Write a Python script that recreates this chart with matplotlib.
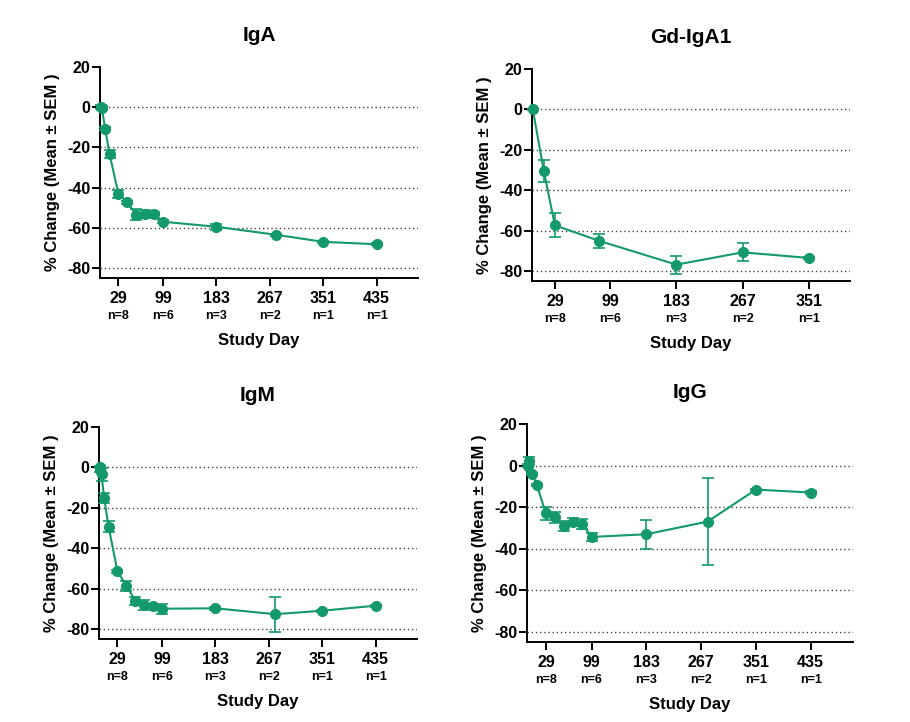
import matplotlib
matplotlib.use('Agg')
import matplotlib.pyplot as plt
import numpy as np

plt.rcParams['font.family'] = ['Liberation Sans', 'DejaVu Sans']
plt.rcParams['font.weight'] = 'bold'

GREEN = '#13996a'

# IgA
iga_days = [1, 3, 8, 15, 29, 43, 57, 71, 85, 99, 183, 277, 351, 435]
iga_mean = [0.3, -0.5, -10.7, -23.3, -43.2, -47.3, -53.5, -53.0, -53.0, -57.0, -59.5, -63.5, -67.0, -68.2]
iga_sem = [1.0, 1.0, 0.8, 2.2, 2.0, 0.8, 2.8, 2.0, 0.8, 0.8, 1.6, 0.6, 0.5, 0.5]

# Gd-IgA1
gd_days = [1, 15, 29, 85, 183, 267, 351]
gd_mean = [0.0, -30.6, -57.4, -65.1, -76.9, -70.8, -73.6]
gd_sem = [0.3, 5.4, 6.0, 3.4, 4.5, 4.5, 0.4]

# IgM
igm_days = [1, 2, 4, 8, 15, 29, 43, 57, 71, 85, 99, 183, 277, 351, 435]
igm_mean = [0.0, -1.5, -3.5, -15.0, -29.3, -51.4, -58.6, -66.0, -68.2, -68.8, -70.0, -69.8, -72.7, -71.0, -68.5]
igm_sem = [0.5, 1.0, 3.0, 2.5, 2.5, 0.8, 2.5, 2.0, 2.5, 0.8, 2.5, 0.6, 8.7, 0.5, 0.5]

# IgG
igg_days = [1, 3, 8, 15, 29, 43, 57, 71, 85, 99, 183, 277, 351, 435]
igg_mean = [0.0, 2.1, -4.0, -9.3, -23.1, -25.0, -29.0, -27.3, -28.1, -34.4, -33.1, -27.0, -11.6, -13.0]
igg_sem = [0.5, 2.0, 0.6, 0.6, 3.0, 2.5, 2.5, 2.0, 2.5, 2.0, 7.0, 21.0, 0.5, 0.5]

tick_days_long = [29, 99, 183, 267, 351, 435]
n_long = ['n=8', 'n=6', 'n=3', 'n=2', 'n=1', 'n=1']
tick_days_short = [29, 99, 183, 267, 351]
n_short = ['n=8', 'n=6', 'n=3', 'n=2', 'n=1']

panels = [
    ('IgA', iga_days, iga_mean, iga_sem, tick_days_long, n_long, 500, [100, 67, 418, 278]),
    ('Gd-IgA1', gd_days, gd_mean, gd_sem, tick_days_short, n_short, 403, [532, 69, 850, 281]),
    ('IgM', igm_days, igm_mean, igm_sem, tick_days_long, n_long, 500, [99, 427, 417, 639]),
    ('IgG', igg_days, igg_mean, igg_sem, tick_days_long, n_long, 500, [527, 424, 853, 642]),
]

W, H = 910, 722
fig = plt.figure(figsize=(W / 100, H / 100), dpi=100)

for title, days, mean, sem, ticks, nlab, xmax, box in panels:
    x0, y0, x1, y1 = box
    ax = fig.add_axes([x0 / W, (H - y1) / H, (x1 - x0) / W, (y1 - y0) / H])

    # dotted reference lines
    for g in [0, -20, -40, -60, -80]:
        ax.axhline(g, color='#444444', lw=1.0, ls=(0, (1, 2)), zorder=1)

    ax.errorbar(days, mean, yerr=sem, color=GREEN, lw=1.5, marker='o', ms=7,
                capsize=4, capthick=1.2, elinewidth=1.2, clip_on=False, zorder=3)

    ax.set_xlim(0, xmax)
    ax.set_ylim(-85, 20)
    ax.set_yticks([20, 0, -20, -40, -60, -80])
    ax.set_yticklabels(['20', '0', '-20', '-40', '-60', '-80'], fontsize=11.5, fontweight='bold')
    ax.set_xticks(ticks)
    ax.set_xticklabels([str(t) for t in ticks], fontsize=11.5, fontweight='bold')
    for t, n in zip(ticks, nlab):
        ax.annotate(n, xy=(t, 0), xycoords=('data', 'axes fraction'),
                    xytext=(0, -23), textcoords='offset points',
                    ha='center', va='top', fontsize=9, fontweight='bold')

    for s in ['top', 'right']:
        ax.spines[s].set_visible(False)
    for s in ['left', 'bottom']:
        ax.spines[s].set_linewidth(1.4)
    ax.tick_params(axis='both', direction='out', length=5.5, width=1.4)
    ax.tick_params(axis='x', pad=4)
    ax.tick_params(axis='y', pad=1.5)

    ax.set_ylabel('% Change (Mean \u00b1 SEM )', fontsize=12, fontweight='bold', labelpad=5)
    ax.set_xlabel('Study Day', fontsize=12, fontweight='bold', labelpad=19)
    ax.set_title(title, fontsize=15, fontweight='bold', pad=19)

fig.savefig('out.png', dpi=100)
